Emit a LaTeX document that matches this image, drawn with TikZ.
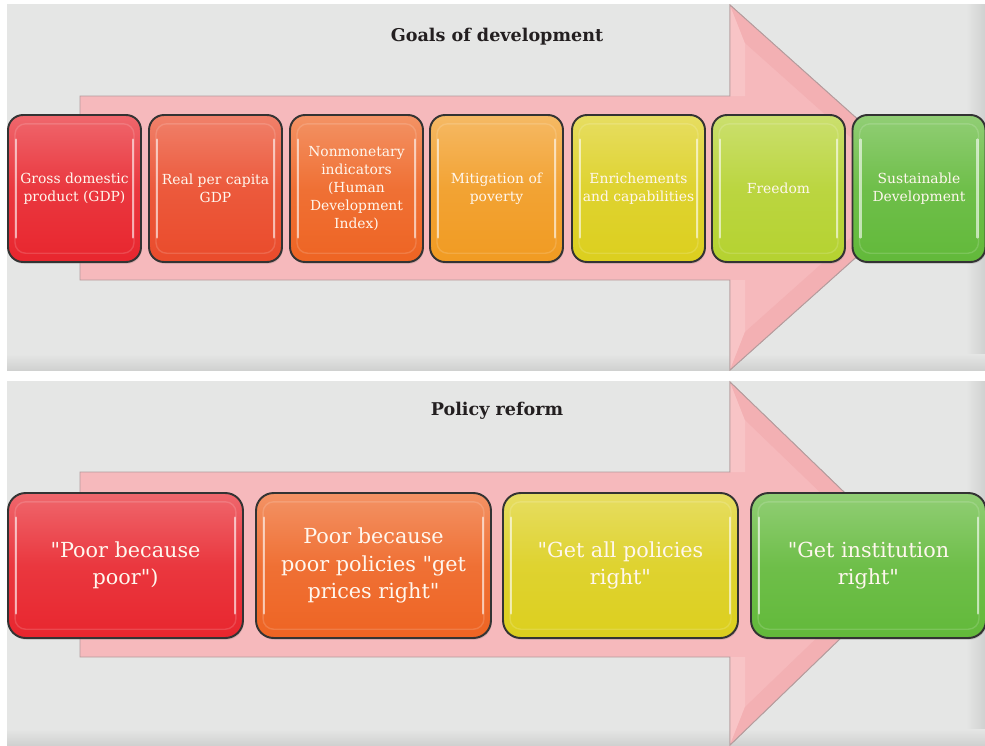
\documentclass[tikz,border=0pt]{standalone}
\usepackage{fontspec}
\setmainfont{DejaVu Serif}[Ligatures=TeXOff]
\usetikzlibrary{shadows}

\definecolor{panelgray}{HTML}{E5E6E5}
\definecolor{panelshade}{HTML}{D0D1D0}
\definecolor{arrowpink}{HTML}{F6B9BC}
\definecolor{arrowlight}{HTML}{F8C4C6}
\definecolor{arrowdark}{HTML}{F3B0B3}
\definecolor{arrowedge}{HTML}{B49C9D}
\definecolor{titleink}{HTML}{231F20}
\definecolor{textwhite}{HTML}{FFF7EE}
\definecolor{gdp}{HTML}{E8262E}
\definecolor{realgdp}{HTML}{EA4B2B}
\definecolor{hdi}{HTML}{EE6423}
\definecolor{mitig}{HTML}{F19B22}
\definecolor{enrich}{HTML}{DCCF1E}
\definecolor{freedom}{HTML}{B5D230}
\definecolor{sustain}{HTML}{62B93A}

\tikzset{
  glossy/.style={draw=black!80, line width=1.1pt,
    top color=#1!70!white, bottom color=#1, middle color=#1!92!white, text=textwhite, align=center,
    drop shadow={opacity=.3, shadow xshift=.5pt, shadow yshift=-1pt},
    path picture={
      \draw[white, opacity=.6, line width=1.4pt, line cap=round]
        ([xshift=4.5pt,yshift=-14pt]path picture bounding box.north west) -- ([xshift=4.5pt,yshift=14pt]path picture bounding box.south west)
        ([xshift=-4.5pt,yshift=-14pt]path picture bounding box.north east) -- ([xshift=-4.5pt,yshift=14pt]path picture bounding box.south east);
      \draw[white, opacity=.15, line width=.8pt, rounded corners=6pt]
        ([shift={(4pt,-5pt)}]path picture bounding box.north west) rectangle ([shift={(-4pt,5pt)}]path picture bounding box.south east);
    }},
  goalbox/.style={glossy=#1, rounded corners=8.5pt, minimum width=2.66cm, minimum height=2.94cm,
    font=\fontsize{7.9}{10.2}\selectfont},
  policybox/.style={glossy=#1, rounded corners=10pt, minimum width=4.7cm, minimum height=2.9cm,
    font=\fontsize{11.8}{15.6}\selectfont},
  heading/.style={font=\fontsize{10}{12}\selectfont\bfseries, text=titleink},
}

\begin{document}
\begin{tikzpicture}[x=0.02cm, y=-0.02cm]
  \useasboundingbox (0,0) rectangle (985,745);
  \fill[white] (0,0) rectangle (985,745);

  % panels
  \fill[panelgray] (7,4) rectangle (985,370);
  \shade[left color=panelgray, right color=panelshade] (966,4) rectangle (985,370);
  \shade[top color=panelgray, bottom color=panelshade] (7,354) rectangle (985,370);
  \fill[panelgray] (7,381) rectangle (985,745);
  \shade[left color=panelgray, right color=panelshade] (966,381) rectangle (985,745);
  \shade[top color=panelgray, bottom color=panelshade] (7,729) rectangle (985,745);

  % upper arrow
  \filldraw[fill=arrowpink, draw=arrowedge, line width=.5pt]
    (80,96) -- (730,96) -- (730,5) -- (934,187.5) -- (730,370) -- (730,280) -- (80,280) -- cycle;
  \fill[arrowlight] (730,5) -- (745,43) -- (745,96) -- (730,96) -- cycle;
  \fill[arrowlight] (730,370) -- (745,332) -- (745,280) -- (730,280) -- cycle;
  \fill[arrowdark] (730,5) -- (934,187.5) -- (907,187.5) -- (745,43) -- cycle;
  \fill[arrowdark] (730,370) -- (934,187.5) -- (907,187.5) -- (745,332) -- cycle;
  \draw[arrowedge, line width=.5pt] (730,96) -- (730,5) -- (934,187.5) -- (730,370) -- (730,280);

  % lower arrow
  \filldraw[fill=arrowpink, draw=arrowedge, line width=.5pt]
    (80,472) -- (730,472) -- (730,382) -- (918,563.5) -- (730,745) -- (730,657) -- (80,657) -- cycle;
  \fill[arrowlight] (730,382) -- (745,420) -- (745,472) -- (730,472) -- cycle;
  \fill[arrowlight] (730,745) -- (745,707) -- (745,657) -- (730,657) -- cycle;
  \fill[arrowdark] (730,382) -- (918,563.5) -- (894,563.5) -- (745,420) -- cycle;
  \fill[arrowdark] (730,745) -- (918,563.5) -- (894,563.5) -- (745,707) -- cycle;
  \draw[arrowedge, line width=.5pt] (730,472) -- (730,382) -- (918,563.5) -- (730,745) -- (730,657);

  \node[heading] (goals) at (497,37) {Goals of development};
  \node[heading] (reform) at (497,411) {Policy reform};

  % goals of development
  \node[goalbox=gdp]     (gdp)     at (74.5,188.5)  {Gross domestic\\product (GDP)};
  \node[goalbox=realgdp] (realgdp) at (215.5,188.5) {Real per capita\\GDP};
  \node[goalbox=hdi]     (hdi)     at (356.5,188.5) {Nonmonetary\\indicators\\(Human\\Development\\Index)};
  \node[goalbox=mitig]   (mitig)   at (496.5,188.5) {Mitigation of\\poverty};
  \node[goalbox=enrich]  (enrich)  at (638.5,188.5) {Enrichements\\and capabilities};
  \node[goalbox=freedom] (freedom) at (778.5,188.5) {Freedom};
  \node[goalbox=sustain] (sustain) at (919,188.5)   {Sustainable\\Development};

  % policy reform
  \node[policybox=gdp]     (poor)   at (125.5,565.5) {"Poor because\\poor")};
  \node[policybox=hdi]     (prices) at (373.5,565.5) {Poor because\\poor policies "get\\prices right"};
  \node[policybox=enrich]  (allpol) at (620.5,565.5) {"Get all policies\\right"};
  \node[policybox=sustain] (instit) at (868.5,565.5) {"Get institution\\right"};
\end{tikzpicture}
\end{document}
